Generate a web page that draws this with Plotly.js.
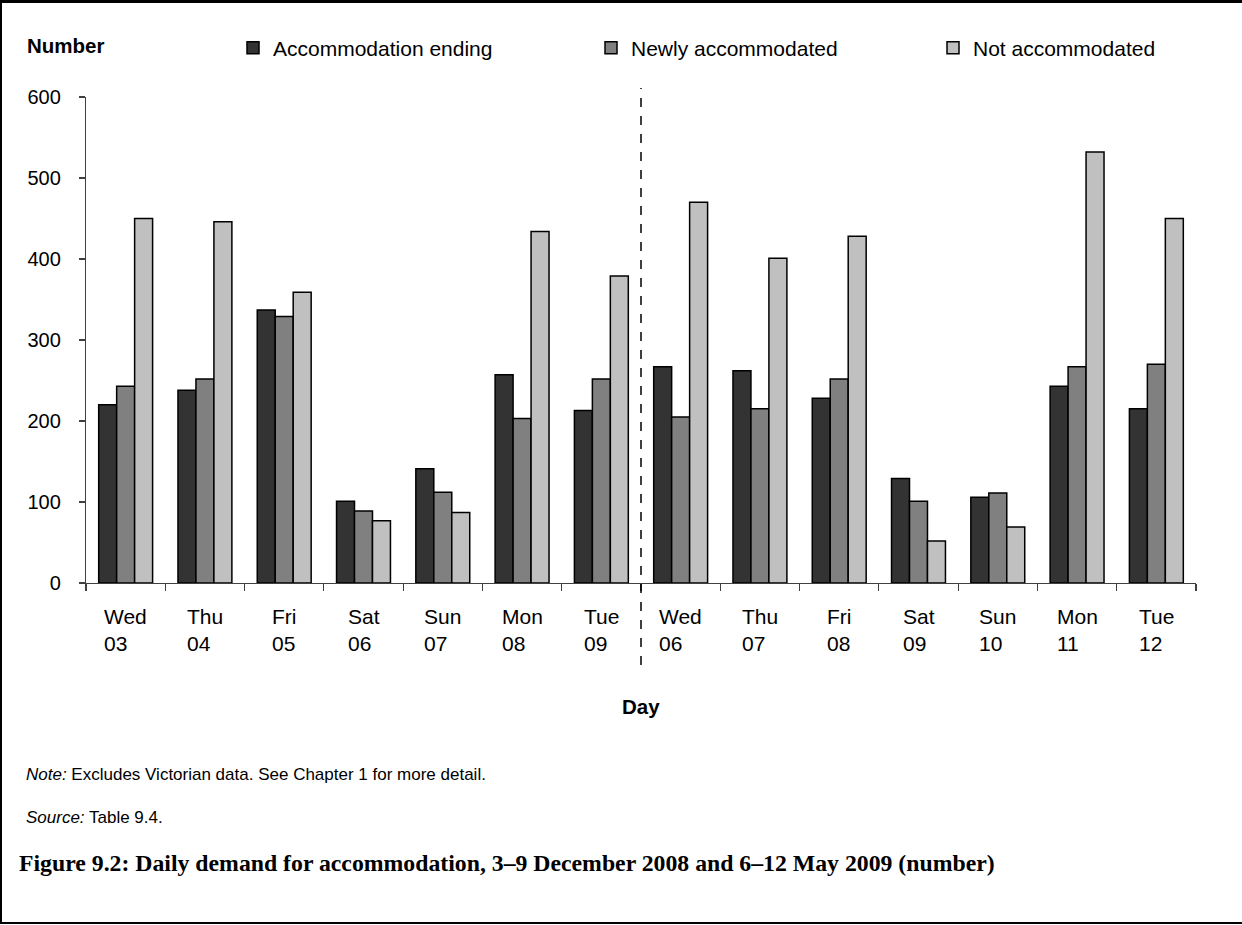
<!DOCTYPE html>
<html>
<head>
<meta charset="utf-8">
<script src="https://cdn.plot.ly/plotly-3.0.1.min.js"></script>
<style>
  html, body { margin: 0; padding: 0; background: #fff; overflow: hidden; }
  #wrap { position: relative; width: 1242px; height: 925px; overflow: hidden; }
  #chart { width: 1242px; height: 925px; }
  #frame { position: absolute; left: 0; top: 0; width: 1250px; height: 919px;
           border-top: 3px solid #000; border-left: 2px solid #000; border-bottom: 2px solid #000;
           pointer-events: none; }
</style>
</head>
<body>
<div id="wrap">
  <div id="chart"></div>
  <div id="frame"></div>
</div>
<script>
// ---- data ----
const days = ["Wed<br>03", "Thu<br>04", "Fri<br>05", "Sat<br>06", "Sun<br>07", "Mon<br>08", "Tue<br>09",
              "Wed<br>06", "Thu<br>07", "Fri<br>08", "Sat<br>09", "Sun<br>10", "Mon<br>11", "Tue<br>12"];
const accommodationEnding = [220, 238, 337, 101, 141, 257, 213, 267, 262, 228, 129, 106, 243, 215];
const newlyAccommodated  = [243, 252, 329,  89, 112, 203, 252, 205, 215, 252, 101, 111, 267, 270];
const notAccommodated    = [450, 446, 359,  77,  87, 434, 379, 470, 401, 428,  52,  69, 532, 450];
const seriesNames = ["Accommodation ending", "Newly accommodated", "Not accommodated"];
const yTicks = [0, 100, 200, 300, 400, 500, 600];

const FONT = '"Liberation Sans", Arial, sans-serif';
const colors = ["#333333", "#808080", "#C0C0C0"];
const seriesData = [accommodationEnding, newlyAccommodated, notAccommodated];
const legendIds = ["legend", "legend2", "legend3"];
const legendX = [233, 591, 933];   // px position of each legend entry

const traces = seriesData.map((vals, i) => ({
  type: "bar",
  name: seriesNames[i],
  x: days,
  y: vals,
  legend: legendIds[i],
  marker: { color: colors[i], line: { color: "#000", width: 1.5 } },
  hoverinfo: "x+y+name"
}));

// paper-coordinate helpers (plot area: x 86..1196, y 97..583)
const L = 86, R = 1196, T = 97, B = 583;
const px = v => (v - L) / (R - L);
const py = v => (B - v) / (B - T);

function legendCfg(xpx) {
  return {
    orientation: "h",
    xref: "container", yref: "container",
    x: xpx / 1242, y: 1 - 48 / 925,
    xanchor: "left", yanchor: "middle",
    font: { family: FONT, size: 21, color: "#000" },
    bgcolor: "rgba(0,0,0,0)"
  };
}

const tickAnnotations = days.map(d => ({
  text: d, xref: "x", yref: "paper", x: d, y: py(603),
  xanchor: "center", yanchor: "top", align: "left", showarrow: false,
  font: { family: FONT, size: 21, color: "#000" }
}));

const layout = {
  width: 1242, height: 925,
  margin: { l: L, r: 1242 - R, t: T, b: 925 - B, pad: 0 },
  paper_bgcolor: "#fff", plot_bgcolor: "#fff",
  font: { family: FONT, size: 20, color: "#000" },
  barmode: "group",
  bargap: 0.32,
  bargroupgap: 0,
  showlegend: true,
  legend: legendCfg(legendX[0]),
  legend2: legendCfg(legendX[1]),
  legend3: legendCfg(legendX[2]),
  xaxis: {
    type: "category",
    tickson: "boundaries",
    ticks: "outside", ticklen: 7, tickcolor: "#404040", tickwidth: 1.2,
    showline: true, linecolor: "#404040", linewidth: 1.2,
    showgrid: false, zeroline: false,
    showticklabels: false,
    fixedrange: true
  },
  yaxis: {
    range: [0, 600],
    tickmode: "array",
    tickvals: yTicks,
    ticks: "outside", ticklen: 6, tickcolor: "#404040", tickwidth: 1.2,
    showline: true, linecolor: "#404040", linewidth: 1.2,
    showgrid: false, zeroline: false,
    tickfont: { family: FONT, size: 20, color: "#000" },
    ticklabelstandoff: 14,
    fixedrange: true
  },
  shapes: [
    {
      type: "line", xref: "x", yref: "paper",
      x0: 6.5, x1: 6.5, y0: py(665), y1: py(88),
      line: { color: "#000", width: 1.5, dash: "dash" }
    }
  ],
  annotations: [
    { text: "<b>Number</b>", xref: "paper", yref: "paper", x: px(25), y: py(45),
      xanchor: "left", yanchor: "middle", showarrow: false,
      font: { family: FONT, size: 20.5, color: "#000" } },
    { text: "<b>Day</b>", xref: "paper", yref: "paper", x: 0.5, y: py(706),
      xanchor: "center", yanchor: "middle", showarrow: false,
      font: { family: FONT, size: 20.5, color: "#000" } },
    { text: "<i>Note:</i> Excludes Victorian data. See Chapter 1 for more detail.",
      xref: "paper", yref: "paper", x: px(24), y: py(774),
      xanchor: "left", yanchor: "middle", showarrow: false,
      font: { family: FONT, size: 17, color: "#000" } },
    { text: "<i>Source:</i> Table 9.4.",
      xref: "paper", yref: "paper", x: px(24), y: py(817),
      xanchor: "left", yanchor: "middle", showarrow: false,
      font: { family: FONT, size: 17, color: "#000" } },
    { text: "<b>Figure 9.2: Daily demand for accommodation, 3–9 December 2008 and 6–12 May 2009 (number)</b>",
      xref: "paper", yref: "paper", x: px(17), y: py(863),
      xanchor: "left", yanchor: "middle", showarrow: false,
      font: { family: '"Liberation Serif", "Times New Roman", serif', size: 23.75, color: "#000" } }
  ].concat(tickAnnotations)
};

Plotly.newPlot("chart", traces, layout, { displayModeBar: false, staticPlot: true });
</script>
</body>
</html>
